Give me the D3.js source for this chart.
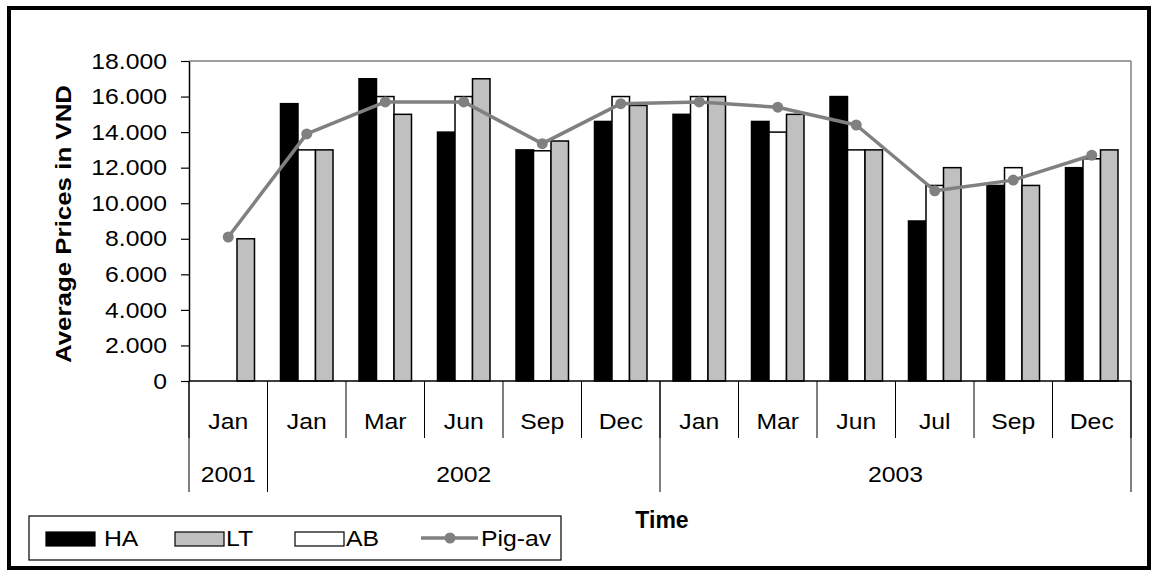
<!DOCTYPE html>
<html>
<head>
<meta charset="utf-8">
<script src="https://cdn.jsdelivr.net/npm/d3@7"></script>
<style>
  html, body { margin: 0; padding: 0; background: #fff; }
  svg { display: block; }
  text { font-family: Arial, "Liberation Sans", sans-serif; fill: #000; }
</style>
</head>
<body>
<svg id="chart" width="1158" height="576"></svg>
<script>
// ---- data ----
const months = ["Jan","Jan","Mar","Jun","Sep","Dec","Jan","Mar","Jun","Jul","Sep","Dec"];
const monthYears = ["2001","2002","2002","2002","2002","2002","2003","2003","2003","2003","2003","2003"];
const years = ["2001","2002","2003"];
const HA    = [null, 15600, 17000, 14000, 13000, 14600, 15000, 14600, 16000,  9000, 11000, 12000];
const AB    = [null, 13000, 16000, 16000, 12950, 16000, 16000, 14000, 13000, 11000, 12000, 12500];
const LT    = [8000, 13000, 15000, 17000, 13500, 15500, 16000, 15000, 13000, 12000, 11000, 13000];
const PigAv = [8100, 13900, 15700, 15700, 13350, 15600, 15700, 15400, 14400, 10700, 11300, 12700];
const yTicks = [0, 2000, 4000, 6000, 8000, 10000, 12000, 14000, 16000, 18000];
const seriesNames = ["HA", "AB", "LT"];
const legendItems = ["HA", "LT", "AB", "Pig-av"];

(function () {
// ---- styles ----
const fills = { HA: "#000000", LT: "#c0c0c0", AB: "#ffffff" };
const lineColor = "#808080";
const SX = 1.1; // horizontal text stretch

const svg = d3.select("#chart");
const pLeft = 189, pRight = 1131, pTop = 61, pBottom = 381;

const keys = months.map((m, i) => i);
const x = d3.scaleBand().domain(keys).range([pLeft, pRight]).paddingInner(0).paddingOuter(0);
const xs = d3.scaleBand().domain(seriesNames).range([0, x.bandwidth()]).paddingInner(0).paddingOuter(0.743);
const y = d3.scaleLinear().domain([0, 18000]).range([pBottom, pTop]);

const loc = d3.formatLocale({ decimal: ",", thousands: ".", grouping: [3], currency: ["", ""] });
const fmt = loc.format(",d");

// outer border
svg.append("rect").attr("x", 9).attr("y", 8).attr("width", 1140).attr("height", 560)
  .attr("fill", "none").attr("stroke", "#000").attr("stroke-width", 4);

// plot area frame (top & right gray)
svg.append("line").attr("x1", pLeft).attr("x2", pRight).attr("y1", pTop).attr("y2", pTop)
  .attr("stroke", "#808080").attr("stroke-width", 1.5);
svg.append("line").attr("x1", pRight).attr("x2", pRight).attr("y1", pTop).attr("y2", pBottom)
  .attr("stroke", "#808080").attr("stroke-width", 1.5);

// bars
const barData = [];
seriesNames.forEach(s => {
  const arr = s === "HA" ? HA : s === "AB" ? AB : LT;
  arr.forEach((v, i) => { if (v != null) barData.push({ s, i, v }); });
});
svg.append("g").selectAll("rect").data(barData).join("rect")
  .attr("x", d => x(d.i) + xs(d.s))
  .attr("width", xs.bandwidth())
  .attr("y", d => y(d.v))
  .attr("height", d => y(0) - y(d.v))
  .attr("fill", d => fills[d.s])
  .attr("stroke", "#000").attr("stroke-width", 1.5);

// line
const lineGen = d3.line().x((d, i) => x(i) + x.bandwidth() / 2).y(d => y(d));
svg.append("path").datum(PigAv).attr("d", lineGen)
  .attr("fill", "none").attr("stroke", lineColor).attr("stroke-width", 3.5).attr("stroke-linejoin", "round");
svg.append("g").selectAll("circle").data(PigAv).join("circle")
  .attr("cx", (d, i) => x(i) + x.bandwidth() / 2).attr("cy", d => y(d)).attr("r", 5.5)
  .attr("fill", lineColor);

// y axis
const yAxis = svg.append("g").attr("transform", `translate(${pLeft},0)`)
  .call(d3.axisLeft(y).tickValues(yTicks).tickFormat(fmt).tickSize(8).tickPadding(14).tickSizeOuter(0));
yAxis.select(".domain").attr("stroke", "#000").attr("stroke-width", 1.5);
yAxis.selectAll(".tick line").attr("stroke", "#000").attr("stroke-width", 1.2);
yAxis.selectAll(".tick text")
  .attr("font-size", 22.5).attr("font-family", "Arial, 'Liberation Sans', sans-serif")
  .attr("fill", "#000")
  .attr("x", -22 / SX).attr("transform", `scale(${SX},1)`);

// x axis baseline
svg.append("line").attr("x1", pLeft).attr("x2", pRight).attr("y1", pBottom).attr("y2", pBottom)
  .attr("stroke", "#000").attr("stroke-width", 1.5);

// month separators
const bounds = keys.map(k => x(k)).concat([pRight]);
svg.append("g").selectAll("line").data(bounds).join("line")
  .attr("x1", d => d).attr("x2", d => d)
  .attr("y1", pBottom).attr("y2", 438)
  .attr("stroke", "#000").attr("stroke-width", 1);

// year separators
const yearBounds = [];
years.forEach(yr => {
  const idx = monthYears.map((m, i) => m === yr ? i : -1).filter(i => i >= 0);
  yearBounds.push({ yr, x0: x(idx[0]), x1: x(idx[idx.length - 1]) + x.bandwidth() });
});
const ySep = [pLeft].concat(yearBounds.map(d => d.x1));
svg.append("g").selectAll("line").data(ySep).join("line")
  .attr("x1", d => d).attr("x2", d => d)
  .attr("y1", pBottom).attr("y2", 492)
  .attr("stroke", "#000").attr("stroke-width", 1);

// month labels
svg.append("g").selectAll("g").data(months).join("g")
  .attr("transform", (d, i) => `translate(${x(i) + x.bandwidth() / 2},429)`)
  .append("text").attr("transform", `scale(${SX},1)`)
  .attr("text-anchor", "middle").attr("font-size", 22.5).text(d => d);

// year labels
svg.append("g").selectAll("g").data(yearBounds).join("g")
  .attr("transform", d => `translate(${(d.x0 + d.x1) / 2},482)`)
  .append("text").attr("transform", `scale(${SX},1)`)
  .attr("text-anchor", "middle").attr("font-size", 22.5).text(d => d.yr);

// y title
svg.append("text")
  .attr("transform", "translate(71,224) rotate(-90)")
  .attr("text-anchor", "middle").attr("font-size", 22.5).attr("font-weight", "bold")
  .attr("textLength", 278).attr("lengthAdjust", "spacingAndGlyphs")
  .text("Average Prices in VND");

// x title
svg.append("text").attr("x", 662).attr("y", 528)
  .attr("text-anchor", "middle").attr("font-size", 23).attr("font-weight", "bold")
  .text("Time");

// legend
const lg = svg.append("g");
lg.append("rect").attr("x", 29).attr("y", 516).attr("width", 532).attr("height", 44)
  .attr("fill", "#fff").attr("stroke", "#000").attr("stroke-width", 1.2);
const legX = [46, 175, 295, 421];
const legTextX = [104, 226, 346, 481];
legendItems.forEach((name, i) => {
  const gx = legX[i];
  if (name === "Pig-av") {
    lg.append("line").attr("x1", gx).attr("x2", gx + 57).attr("y1", 538).attr("y2", 538)
      .attr("stroke", lineColor).attr("stroke-width", 3.5);
    lg.append("circle").attr("cx", gx + 29).attr("cy", 538).attr("r", 5.5).attr("fill", lineColor);
  } else {
    lg.append("rect").attr("x", gx).attr("y", 532).attr("width", 49).attr("height", 14)
      .attr("fill", fills[name]).attr("stroke", "#000").attr("stroke-width", 1.2);
  }
  lg.append("g").attr("transform", `translate(${legTextX[i]},546)`)
    .append("text").attr("transform", `scale(${SX},1)`).attr("font-size", 22.5).text(name);
});
})();
</script>
</body>
</html>
